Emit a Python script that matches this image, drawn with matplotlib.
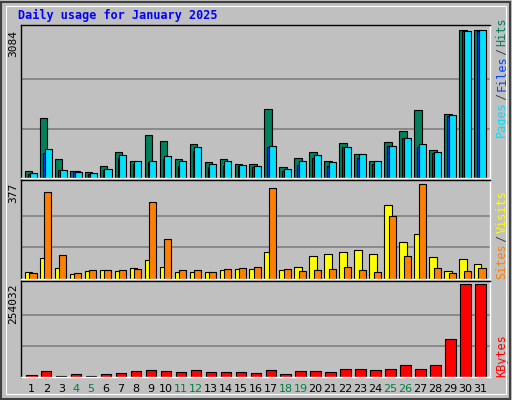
import matplotlib
matplotlib.use("Agg")
import matplotlib.pyplot as plt
import matplotlib.patches as mpatches

days = list(range(1, 32))
weekends = [4, 5, 11, 12, 18, 19, 25, 26]

hits = [155, 1250, 390, 155, 135, 260, 535, 365, 895, 770, 390, 705, 325, 390, 300, 300,
        1445, 220, 410, 535, 365, 725, 495, 365, 750, 980, 1425, 580, 1340, 3090, 3084]
files = [92, 515, 175, 155, 92, 175, 410, 300, 325, 390, 260, 557, 220, 240, 260, 220,
         640, 155, 280, 410, 240, 640, 410, 300, 662, 830, 640, 515, 1295, 3070, 3070]
pages = [113, 600, 175, 135, 113, 197, 472, 345, 365, 450, 345, 640, 300, 365, 280, 260,
         662, 197, 365, 472, 325, 640, 495, 345, 662, 830, 705, 535, 1315, 3070, 3084]
visits = [29, 82, 45, 20, 33, 37, 33, 45, 74, 49, 29, 29, 29, 37, 41, 41,
          107, 37, 49, 90, 98, 107, 115, 98, 295, 148, 180, 86, 33, 78, 61]
sites = [25, 344, 94, 25, 37, 37, 37, 41, 303, 160, 37, 37, 29, 41, 45, 49,
         361, 41, 33, 37, 41, 49, 37, 29, 250, 90, 377, 45, 25, 33, 45]
kbytes = [5600, 16700, 2800, 8400, 2800, 8400, 11200, 16700, 19500, 16700, 14000, 19500,
          14000, 14000, 14000, 11200, 19500, 8400, 16700, 16700, 14000, 22300, 22300, 19500,
          22300, 33500, 22300, 33500, 103000, 254032, 254032]

BG = "#C0C0C0"
W, H = 512, 400
fig = plt.figure(figsize=(W / 100, H / 100), dpi=100, facecolor=BG)
fig.patches.append(mpatches.Rectangle((1 / W, 1 / H), 1 - 3 / W, 1 - 3 / H,
                                      transform=fig.transFigure, fill=False,
                                      edgecolor="#404040", linewidth=1.5))
fig.patches.append(mpatches.Rectangle((6 / W, 6 / H), 1 - 12 / W, 1 - 12 / H,
                                      transform=fig.transFigure, fill=False,
                                      edgecolor="#ffffff", linewidth=0.8))

MONO = "DejaVu Sans Mono"
fig.text(18 / W, 1 - 15 / H, "Daily usage for January 2025", color="#0000ff",
         family=MONO, fontweight="bold", fontsize=8.5, va="center")

left, right = 21 / W, 490 / W
xl = (0.233, 31.57)


def make_ax(top_px, bot_px):
    ax = fig.add_axes([left, 1 - bot_px / H, right - left, (bot_px - top_px) / H])
    ax.set_facecolor(BG)
    ax.set_xlim(*xl)
    ax.set_xticks([])
    ax.set_yticks([])
    for s in ax.spines.values():
        s.set_color("black")
        s.set_linewidth(1)
    ax.spines["bottom"].set_color("white")
    ax.spines["right"].set_color("white")
    return ax


def grid(ax, vmax):
    for f in (1 / 3, 2 / 3):
        ax.axhline(vmax * f, color="#808080", linewidth=1.2, zorder=0)


kw = dict(align="edge", edgecolor="black", linewidth=0.8)
x0 = [d - 0.5 for d in days]

# top: hits/files/pages
ax1 = make_ax(25, 178)
ax1.set_ylim(0, 3084 * 1.035)
grid(ax1, 3084)
ax1.bar([x + 0.0 for x in x0], hits, width=0.5, color="#00805c", **kw)
ax1.bar([x + 0.2 for x in x0], files, width=0.47, color="#0040ff", **kw)
ax1.bar([x + 0.31 for x in x0], pages, width=0.47, color="#00e0ff", **kw)

# middle: visits/sites
ax2 = make_ax(180, 279)
ax2.set_ylim(0, 377 * 1.04)
grid(ax2, 377)
ax2.bar([x + 0.0 for x in x0], visits, width=0.5, color="#ffff00", **kw)
ax2.bar([x + 0.3 for x in x0], sites, width=0.47, color="#ff8000", **kw)

# bottom: kbytes
ax3 = make_ax(281, 377)
ax3.set_ylim(0, 254032 * 1.035)
grid(ax3, 254032)
ax3.bar([x + 0.07 for x in x0], kbytes, width=0.7, color="#ff0000", **kw)

# max labels on left
for ax, lab in ((ax1, "3084"), (ax2, "377"), (ax3, "254032")):
    ax.text(-7.5 / 469, 0.97, lab, transform=ax.transAxes, rotation=90, ha="center",
            va="top", family=MONO, fontsize=8, color="black")

# day labels
for d in days:
    ax3.text(d - 0.5 + 0.42, -0.13, str(d), transform=ax3.get_xaxis_transform(),
             ha="center", va="center", fontsize=8,
             color="#008040" if d in weekends else "black")


def rlabel(ax, parts, bottom_frac, step_px):
    hpx = ax.get_position().height * H
    y = bottom_frac
    for txt, col in parts:
        ax.text(1.025, y, txt, transform=ax.transAxes, rotation=90, ha="center",
                va="bottom", family=MONO, fontsize=8.5, color=col)
        y += (len(txt) + 0.3) * step_px / hpx


rlabel(ax1, [("Pages", "#00e0ff"), ("/", "#404040"), ("Files", "#0040ff"),
             ("/", "#404040"), ("Hits", "#00805c")], 0.27, 6.9)
rlabel(ax2, [("Sites", "#ff8000"), ("/", "#404040"), ("Visits", "#ffff00")], 0.0, 6.9)
rlabel(ax3, [("KBytes", "#ff0000")], 0.0, 6.9)

fig.savefig("out.png", dpi=100, facecolor=BG)
